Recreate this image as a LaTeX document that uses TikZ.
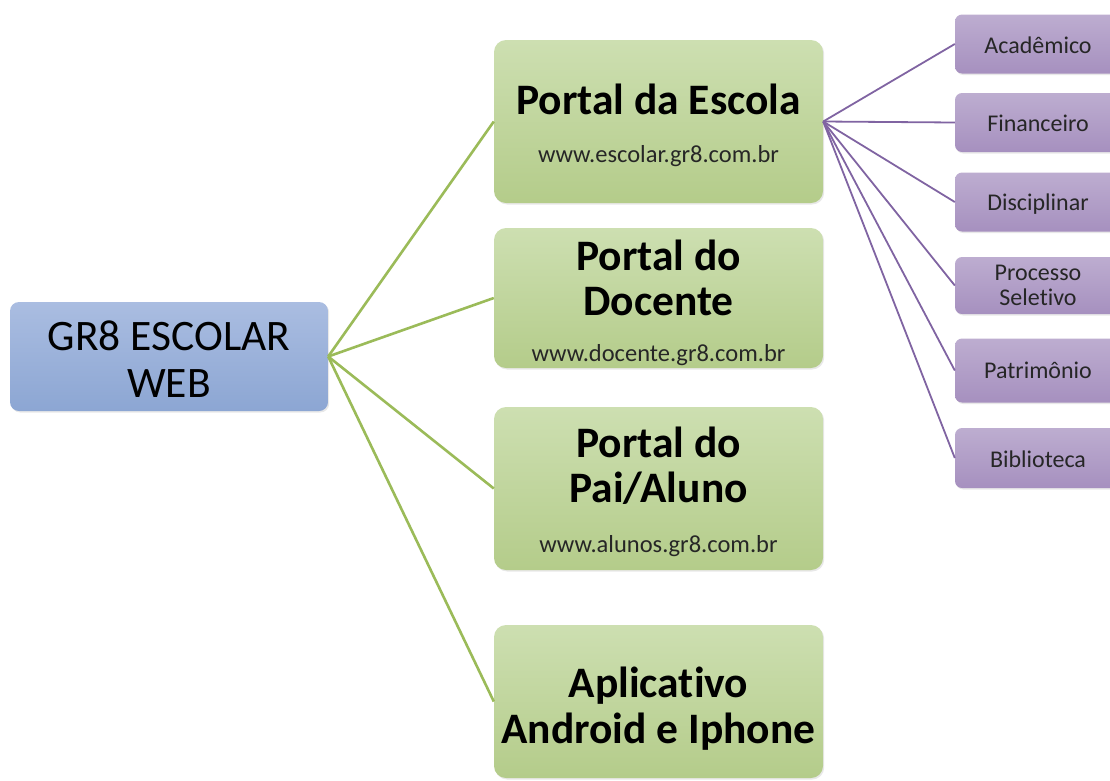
\documentclass[tikz,border=0pt]{standalone}
\usepackage{fontspec}
\setmainfont{Carlito}[Ligatures=NoCommon]
\usetikzlibrary{shadows}
\definecolor{rootA}{HTML}{AABDE1}
\definecolor{rootB}{HTML}{8CA6D3}
\definecolor{grA}{HTML}{CDDFB1}
\definecolor{grB}{HTML}{B4CC8A}
\definecolor{puA}{HTML}{BDADD0}
\definecolor{puB}{HTML}{A690BF}
\definecolor{gline}{HTML}{9BBB59}
\definecolor{pline}{HTML}{8064A2}
\begin{document}
\begin{tikzpicture}[x=1pt,y=-1pt,
  shadowed/.style={drop shadow={opacity=0.18,shadow xshift=1.2pt,shadow yshift=-1.5pt}},
  rootbox/.style={rounded corners=9pt, top color=rootA, bottom color=rootB, minimum width=318pt, minimum height=109pt, inner sep=0pt, shadowed},
  greenbox/.style={rounded corners=12pt, top color=grA, bottom color=grB, minimum width=329pt, inner sep=0pt, shadowed},
  purplebox/.style={rounded corners=7pt, top color=puA, bottom color=puB, minimum width=166pt, inner sep=0pt, shadowed},
  lbl/.style={inner sep=0pt, anchor=base, text=black},
  roottxt/.style={lbl, font=\fontsize{43.5}{48}\selectfont},
  titletxt/.style={lbl, font=\fontsize{43.5}{48}\selectfont\bfseries},
  urltxt/.style={lbl, font=\fontsize{24.5}{28}\selectfont, text=black!85},
  subtxt/.style={lbl, font=\fontsize{24}{28}\selectfont, text=black!85},
  gconn/.style={draw=gline, line width=2.6pt},
  pconn/.style={draw=pline, line width=1.8pt}
]
\useasboundingbox (0,0) rectangle (1110,780);

% boxes
\node[rootbox] (root) at (169,356.5) {};
\node[greenbox, minimum height=163pt] (escola) at (658.5,121.5) {};
\node[greenbox, minimum height=140pt] (docente) at (658.5,298) {};
\node[greenbox, minimum height=163pt] (pai) at (658.5,488.5) {};
\node[greenbox, minimum height=153pt] (app) at (658.5,701.5) {};

\node[purplebox, minimum height=59pt] (acad) at (1038,44) {};
\node[purplebox, minimum height=59pt] (fin) at (1038,122.5) {};
\node[purplebox, minimum height=59pt] (disc) at (1038,202) {};
\node[purplebox, minimum height=57pt] (proc) at (1038,285.5) {};
\node[purplebox, minimum height=64pt] (patr) at (1038,370.5) {};
\node[purplebox, minimum height=60pt] (bib) at (1038,458) {};

% connectors
\foreach \t in {escola,docente,pai,app}
  \draw[gconn] (root.east) -- (\t.west);
\foreach \t in {acad,fin,disc,proc,patr,bib}
  \draw[pconn] (escola.east) -- (\t.west);

% texts
\node[roottxt] (r1) at (169,350) {GR8 ESCOLAR};
\node[roottxt] (r2) at (169,397) {WEB};

\node[titletxt] (e1) at (658.5,114) {Portal da Escola};
\node[urltxt] (e2) at (658.5,162) {www.escolar.gr8.com.br};

\node[titletxt] (d1) at (658.5,270) {Portal do};
\node[titletxt] (d2) at (658.5,315) {Docente};
\node[urltxt] (d3) at (658.5,361) {www.docente.gr8.com.br};

\node[titletxt] (p1) at (658.5,457) {Portal do};
\node[titletxt] (p2) at (658.5,502) {Pai/Aluno};
\node[urltxt] (p3) at (658.5,552) {www.alunos.gr8.com.br};

\node[titletxt] (a1) at (658.5,697) {Aplicativo};
\node[titletxt] (a2) at (658.5,743) {Android e Iphone};

\node[subtxt] (t1) at (1038,53) {Acadêmico};
\node[subtxt] (t2) at (1038,131.5) {Financeiro};
\node[subtxt] (t3) at (1038,210.5) {Disciplinar};
\node[subtxt] (t4a) at (1038,280) {Processo};
\node[subtxt] (t4b) at (1038,305) {Seletivo};
\node[subtxt] (t5) at (1038,378.5) {Patrimônio};
\node[subtxt] (t6) at (1038,467) {Biblioteca};
\end{tikzpicture}
\end{document}
